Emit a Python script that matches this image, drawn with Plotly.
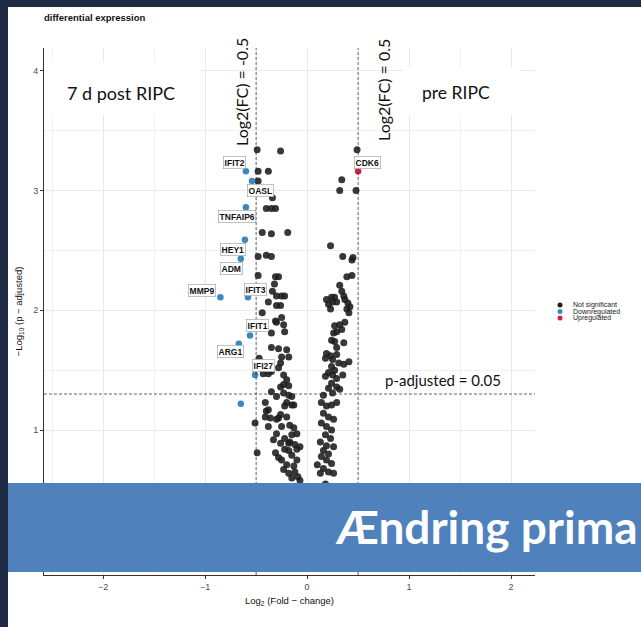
import plotly.graph_objects as go

# ==========================================================
# DATA
# ==========================================================

# not significant genes, left cloud then right cloud
ns_x = [
    -0.49, -0.26, -0.48, -0.38, -0.48, -0.34, -0.40, -0.35, -0.31, -0.44,
    -0.35, -0.19, -0.48, -0.40, -0.35, -0.48, -0.31, -0.28, -0.32, -0.34,
    -0.30, -0.25, -0.22, -0.38, -0.26, -0.30, -0.44, -0.25, -0.30, -0.23,
    -0.31, -0.35, -0.22, -0.35, -0.28, -0.20, -0.25, -0.18, -0.26, -0.47,
    -0.43, -0.38, -0.35, -0.28, -0.23, -0.20, -0.18, -0.23, -0.15, -0.13,
    -0.20, -0.41, -0.40, -0.35, -0.30, -0.26, -0.23, -0.18, -0.22, -0.15,
    -0.26, -0.36, -0.30, -0.20, -0.25, -0.17, -0.10, -0.15, -0.22, -0.30,
    -0.33, -0.26, -0.18, -0.12, -0.07, -0.22, -0.15, -0.25, -0.28, -0.10,
    -0.20, -0.13, -0.18, -0.12, -0.23, -0.09, -0.15, -0.07, -0.38, -0.41,
    -0.28, -0.38, -0.13, -0.17, -0.18, -0.10, -0.31, -0.51, -0.49, -0.20,
    -0.12, -0.17, -0.08, -0.14, -0.10, -0.05, -0.08, -0.16, -0.04,
    0.49, 0.34, 0.32, 0.48, 0.23, 0.35, 0.44, 0.45, 0.39, 0.44,
    0.32, 0.34, 0.36, 0.37, 0.19, 0.24, 0.27, 0.21, 0.25, 0.29,
    0.40, 0.42, 0.41, 0.39, 0.23, 0.37, 0.32, 0.27, 0.29, 0.26,
    0.34, 0.24, 0.27, 0.36, 0.29, 0.19, 0.18, 0.23, 0.25, 0.29,
    0.24, 0.27, 0.31, 0.41, 0.36, 0.21, 0.18, 0.25, 0.29, 0.35,
    0.24, 0.21, 0.29, 0.32, 0.25, 0.16, 0.14, 0.19, 0.24, 0.29,
    0.16, 0.21, 0.26, 0.14, 0.19, 0.24, 0.18, 0.23, 0.13, 0.19,
    0.26, 0.16, 0.21, 0.14, 0.19, 0.24, 0.10, 0.16, 0.21, 0.13,
    0.26, 0.10, 0.15, 0.08, 0.12, 0.06, 0.09, 0.03, 0.18, 0.05,
]
ns_y = [
    3.34, 3.33, 3.16, 3.16, 3.08, 2.94, 2.85, 2.85, 2.85, 2.65,
    2.64, 2.65, 2.45, 2.46, 2.45, 2.29, 2.28, 2.28, 2.22, 2.16,
    2.12, 2.12, 2.12, 2.07, 2.04, 2.04, 1.98, 1.94, 1.90, 1.88,
    1.91, 1.81, 1.82, 1.69, 1.68, 1.67, 1.61, 1.61, 1.56, 1.60,
    1.47, 1.47, 1.49, 1.52, 1.46, 1.42, 1.37, 1.31, 1.28, 1.21,
    1.23, 1.23, 1.16, 1.32, 1.28, 1.36, 1.38, 1.29, 1.20, 1.21,
    1.13, 1.10, 1.09, 1.11, 1.03, 1.04, 0.97, 0.96, 0.93, 0.97,
    0.92, 0.89, 0.89, 0.88, 0.86, 0.84, 0.79, 0.75, 0.77, 0.75,
    0.71, 0.70, 0.64, 0.65, 0.67, 0.61, 0.60, 0.58, 1.17, 1.11,
    1.10, 1.03, 1.02, 0.90, 0.83, 0.84, 0.81, 1.06, 0.81, 0.50,
    0.45, 0.40, 0.35, 0.30, 0.22, 0.15, 0.08, 0.52, 0.42,
    3.34, 3.09, 3.00, 3.00, 2.54, 2.45, 2.42, 2.44, 2.28, 2.29,
    2.21, 2.16, 2.12, 2.09, 2.09, 2.11, 2.11, 2.05, 2.07, 2.07,
    2.06, 2.03, 1.98, 2.01, 2.01, 1.90, 1.88, 1.87, 1.82, 1.81,
    1.84, 1.75, 1.74, 1.73, 1.69, 1.64, 1.60, 1.62, 1.59, 1.63,
    1.53, 1.50, 1.56, 1.57, 1.55, 1.48, 1.45, 1.46, 1.43, 1.46,
    1.39, 1.35, 1.36, 1.34, 1.31, 1.29, 1.23, 1.20, 1.21, 1.23,
    1.14, 1.11, 1.09, 1.06, 1.03, 1.00, 0.96, 0.93, 0.90, 0.87,
    0.86, 0.83, 0.80, 0.78, 0.75, 0.72, 0.71, 0.68, 0.65, 0.64,
    0.64, 0.50, 0.45, 0.38, 0.30, 0.22, 0.14, 0.06, 0.55, 0.40,
]

# downregulated genes
down_gene = ["IFIT2", "OASL", "TNFAIP6", "HEY1", "ADM", "MMP9",
             "IFIT3", "IFIT1", "ARG1", "IFI27", ""]
down_x = [-0.60, -0.54, -0.60, -0.61, -0.65, -0.85, -0.58, -0.56, -0.67, -0.51, -0.65]
down_y = [3.16, 3.08, 2.86, 2.59, 2.43, 2.11, 2.11, 1.79, 1.72, 1.46, 1.22]

# upregulated genes
up_gene = ["CDK6"]
up_x = [0.50]
up_y = [3.16]

fc_cut = 0.5
p_cut = 1.301  # -log10(0.05)

# label nudges in pixels (x right, y up)
label_shift = {
    "IFIT2": (-11, 9), "OASL": (8, -10), "TNFAIP6": (-9, -9),
    "HEY1": (-12, -10), "ADM": (-9, -10), "MMP9": (-18, 7),
    "IFIT3": (8, 8), "IFIT1": (8, 10), "ARG1": (-8, -8),
    "IFI27": (8, 9), "CDK6": (9, 9),
}

ARIAL = "Liberation Sans, Arial, sans-serif"
SLIDE = "Lato, Open Sans, sans-serif"
BLUE = "#3a88c0"
RED = "#d81f45"
DARK = "#1c1c1c"

# plot area in pixels, used to place slide items in paper coords
L, R, T, B = 44, 535, 48, 575
W, H = 641, 627


def px(xp):
    return (xp - L) / (R - L)


def py(yp):
    return (B - yp) / (B - T)


fig = go.Figure()

fig.add_trace(go.Scatter(
    x=ns_x, y=ns_y, mode="markers", name="Not significant",
    marker=dict(size=7, color=DARK, opacity=0.88, line=dict(width=0)),
    showlegend=False,
))
fig.add_trace(go.Scatter(
    x=down_x, y=down_y, mode="markers", name="Downregulated",
    marker=dict(size=6.5, color=BLUE, line=dict(width=0)),
    showlegend=False,
))
fig.add_trace(go.Scatter(
    x=up_x, y=up_y, mode="markers", name="Upregulated",
    marker=dict(size=6.5, color=RED, line=dict(width=0)),
    showlegend=False,
))

# ----------------------------------------------------------
# threshold lines
# ----------------------------------------------------------
for xv in (-fc_cut, fc_cut):
    fig.add_shape(type="line", xref="x", yref="paper", x0=xv, x1=xv, y0=0, y1=1,
                  line=dict(color="#222222", width=0.7, dash="3px,2px"))
fig.add_shape(type="line", xref="paper", yref="y", x0=0, x1=1, y0=p_cut, y1=p_cut,
              line=dict(color="#222222", width=0.7, dash="3px,2px"))

# ----------------------------------------------------------
# gene labels
# ----------------------------------------------------------
for gx, gy, g in list(zip(down_x, down_y, down_gene)) + list(zip(up_x, up_y, up_gene)):
    if not g:
        continue
    sx, sy = label_shift[g]
    fig.add_annotation(
        x=gx, y=gy, text=f"<b>{g}</b>", showarrow=False,
        xshift=sx, yshift=sy, xanchor="center", yanchor="middle",
        font=dict(family=ARIAL, size=8.5, color="#111111"),
        bgcolor="white", bordercolor="#9a9a9a", borderwidth=0.6, borderpad=1,
    )

# ----------------------------------------------------------
# slide overlays: white text boxes, banner, dark frame
# ----------------------------------------------------------
fig.add_shape(type="rect", xref="paper", yref="paper",
              x0=px(44), x1=px(200), y0=py(115), y1=py(62),
              fillcolor="white", line_width=0, layer="above")
fig.add_shape(type="rect", xref="paper", yref="paper",
              x0=px(403), x1=px(520), y0=py(115), y1=py(68),
              fillcolor="white", line_width=0, layer="above")
fig.add_shape(type="rect", xref="paper", yref="paper",
              x0=px(8), x1=px(W), y0=py(572), y1=py(483),
              fillcolor="#4f81bd", line_width=0, layer="above")
fig.add_shape(type="rect", xref="paper", yref="paper",
              x0=px(0), x1=px(8), y0=py(H), y1=py(0),
              fillcolor="#1f2b45", line_width=0, layer="above")
fig.add_shape(type="rect", xref="paper", yref="paper",
              x0=px(0), x1=px(W), y0=py(7), y1=py(0),
              fillcolor="#1f2b45", line_width=0, layer="above")

slide_text = [
    ("7 d post RIPC", 121, 93, 18, 0),
    ("pre RIPC", 456, 92, 17.5, 0),
    ("Log2(FC) = -0.5", 241, 92, 16, -90),
    ("Log2(FC) = 0.5", 383, 90, 16, -90),
    ("p-adjusted = 0.05", 443, 380, 15, 0),
]
for txt, xp, yp, fs, ang in slide_text:
    fig.add_annotation(x=px(xp), y=py(yp), xref="paper", yref="paper",
                       text=txt, showarrow=False, textangle=ang,
                       xanchor="center", yanchor="middle",
                       font=dict(family=SLIDE, size=fs, color="#111111"))

fig.add_annotation(x=px(333), y=py(526), xref="paper", yref="paper",
                   text="<b>Ændring prima</b>", showarrow=False,
                   xanchor="left", yanchor="middle",
                   font=dict(family=SLIDE, size=46, color="white"))

# ----------------------------------------------------------
# legend drawn by hand (tight ggplot spacing)
# ----------------------------------------------------------
legend_items = [("Not significant", DARK), ("Downregulated", BLUE), ("Upregulated", RED)]
for i, (lab, col) in enumerate(legend_items):
    yp = 305 + i * 6.5
    fig.add_shape(type="circle", xref="paper", yref="paper",
                  x0=px(557.5), x1=px(562.5), y0=py(yp + 2.5), y1=py(yp - 2.5),
                  fillcolor=col, line_width=0)
    fig.add_annotation(x=px(571), y=py(yp), xref="paper", yref="paper",
                       text=lab, showarrow=False, xanchor="left", yanchor="middle",
                       font=dict(family=ARIAL, size=7, color="#222222"))

# ----------------------------------------------------------
# layout
# ----------------------------------------------------------
fig.update_layout(
    width=W, height=H,
    margin=dict(l=L, r=W - R, t=T, b=H - B),
    paper_bgcolor="white", plot_bgcolor="white",
    title=dict(text="<b>differential expression</b>", x=px(44), xanchor="left",
               xref="paper", y=1 - 18 / H, yanchor="middle",
               font=dict(family=ARIAL, size=9.5, color="#111111")),
    font=dict(family=ARIAL),
    xaxis=dict(
        range=[-2.58, 2.235], dtick=1, tick0=0,
        showgrid=True, gridcolor="#e9e9e9", gridwidth=1,
        minor=dict(dtick=0.5, showgrid=True, gridcolor="#f1f1f1", gridwidth=0.8),
        zeroline=False, showline=True, linecolor="#333333", linewidth=1,
        ticks="outside", ticklen=3, tickcolor="#333333",
        tickfont=dict(family=ARIAL, size=9, color="#4d4d4d"),
        title=dict(text="Log<sub>2</sub> (Fold − change)", standoff=6,
                   font=dict(family=ARIAL, size=9.5, color="#111111")),
    ),
    yaxis=dict(
        range=[-0.21, 4.19], dtick=1, tick0=0,
        showgrid=True, gridcolor="#e9e9e9", gridwidth=1,
        minor=dict(dtick=0.5, showgrid=True, gridcolor="#f1f1f1", gridwidth=0.8),
        zeroline=False, showline=True, linecolor="#333333", linewidth=1,
        ticks="outside", ticklen=3, tickcolor="#333333",
        tickfont=dict(family=ARIAL, size=9, color="#4d4d4d"),
        title=dict(text="−Log<sub>10</sub> (p − adjusted)", standoff=8,
                   font=dict(family=ARIAL, size=9.5, color="#111111")),
    ),
)

# drop the browser's default body margin and scrollbars so the figure sits at 0,0
fig.write_html(
    "out.html",
    config={"displayModeBar": False},
    post_script="document.body.style.margin='0';document.body.style.overflow='hidden';",
)
